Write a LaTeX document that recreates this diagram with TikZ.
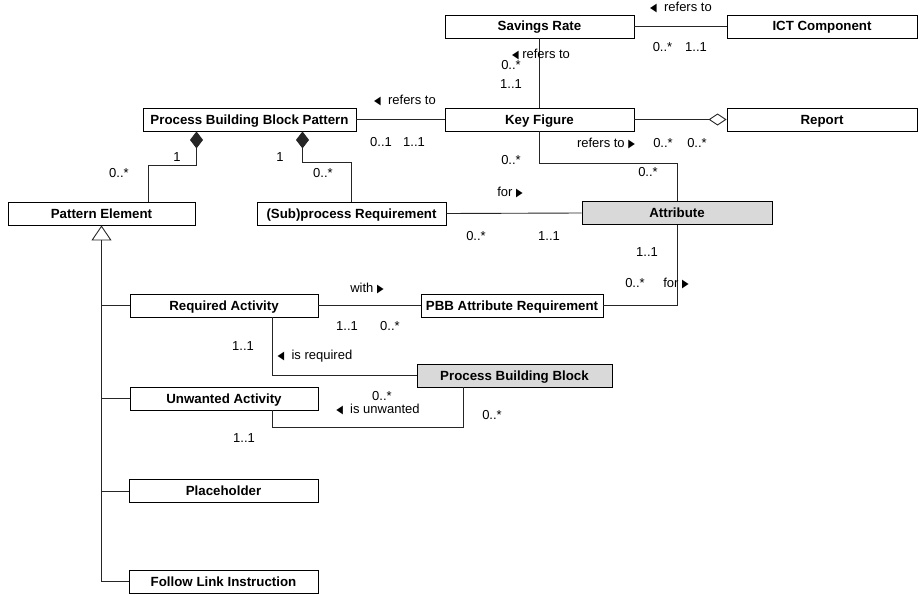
\documentclass[tikz,border=0pt]{standalone}
\usepackage{fontspec}
\usepackage{graphicx}
\setmainfont{Liberation Sans}
\newfontfamily\symfont{DejaVu Sans}
\usetikzlibrary{arrows.meta}
\definecolor{clsgray}{RGB}{217,217,217}
% small direction markers for association names
\newcommand{\dirL}{\scalebox{0.75}[1]{\symfont\fontsize{11.5}{11.5}\selectfont ◀}}
\newcommand{\dirR}{\scalebox{0.75}[1]{\symfont\fontsize{11.5}{11.5}\selectfont ▶}}

\begin{document}
\begin{tikzpicture}[x=1pt,y=-1pt,
  cls/.style={draw=black, line width=0.9pt, fill=white, minimum height=23pt,
    inner sep=0pt, text height=10pt, text depth=1pt,
    font=\fontsize{13.3}{15}\selectfont\bfseries},
  shaded/.style={cls, fill=clsgray},
  lbl/.style={inner sep=0pt, font=\fontsize{13}{15}\selectfont},
  link/.style={draw=black!85, line width=0.9pt},
  compo/.style={link, {Diamond[length=17pt,width=13pt]}-},
  aggr/.style={link, -{Diamond[open,length=18pt,width=12pt]}},
  gen/.style={link, -{Triangle[open,length=15pt,width=20pt]}}
]
\useasboundingbox (0,0) rectangle (920,594);

% classes
\node[cls, minimum width=189pt] (sav)   at (539.5,26.5) {Savings Rate};
\node[cls, minimum width=190pt] (ict)   at (822,26.5)   {ICT Component};
\node[cls, minimum width=189pt] (kf)    at (539.5,119.5) {Key Figure};
\node[cls, minimum width=190pt] (rep)   at (822,119.5)  {Report};
\node[cls, minimum width=213pt] (pbbp)  at (249.5,119.5) {Process Building Block Pattern};
\node[cls, minimum width=187pt] (pe)    at (101.5,213.5) {Pattern Element};
\node[cls, minimum width=189pt] (sub)   at (351.5,213.5) {(Sub)process Requirement};
\node[shaded, minimum width=190pt] (att) at (677,213)    {Attribute};
\node[cls, minimum width=182pt] (pbbar) at (512,305.5)  {PBB Attribute Requirement};
\node[cls, minimum width=188pt] (ra)    at (224,305.5)  {Required Activity};
\node[shaded, minimum width=195pt] (pbb) at (514.5,375.5) {Process Building Block};
\node[cls, minimum width=188pt] (ua)    at (224,398.5)  {Unwanted Activity};
\node[cls, minimum width=189pt] (ph)    at (223.5,491)  {Placeholder};
\node[cls, minimum width=189pt] (fli)   at (223.5,581.5) {Follow Link Instruction};

% associations
\draw[link] (sav.east) -- (ict.west);
\draw[link] (sav.south) -- (kf.north);
\draw[aggr] (kf.east) -- (rep.west);
\draw[link] (pbbp.east) -- (kf.west);
\draw[link] (sub.east) -- (att.west);
\draw[link] (kf.south) |- ([yshift=38pt]att.north) -- (att.north);
\draw[link] (att.south) |- (pbbar.east);
\draw[link] (ra.east) -- (pbbar.west);
\draw[link] ([xshift=48pt]ra.south) |- (pbb.west);
\draw[link] ([xshift=48pt]ua.south) |- ([xshift=-51.5pt,yshift=-40pt]pbb.south)
  -- ([xshift=-51.5pt]pbb.south);

% compositions
\draw[compo] ([xshift=-53pt]pbbp.south) |- ([xshift=46.5pt,yshift=36pt]pe.north)
  -- ([xshift=46.5pt]pe.north);
\draw[compo] ([xshift=53pt]pbbp.south) |- ([yshift=39pt]sub.north) -- (sub.north);

% generalization tree
\coordinate (gbot) at (101.5,581.5);
\draw[gen] (gbot) -- (pe.south);
\draw[link] (ra.west) -- (ra.west -| gbot);
\draw[link] (ua.west) -- (ua.west -| gbot);
\draw[link] (ph.west) -- (ph.west -| gbot);
\draw[link] (fli.west) -- (gbot);

% association names
\node[lbl] (n1) at (681,8)    {\dirL\ \ refers to};
\node[lbl] (n2) at (541,55)   {\dirL\ refers to};
\node[lbl] (n3) at (405,101)  {\dirL\ \ refers to};
\node[lbl] (n4) at (606,144)  {refers to \dirR};
\node[lbl] (n5) at (510,193)  {for \dirR};
\node[lbl] (n6) at (676,283)  {for \dirR};
\node[lbl] (n7) at (367,288)  {with \dirR};
\node[lbl] (n8) at (315,356)  {\dirL\ \ is required};
\node[lbl] (n9) at (378,409)  {\dirL\ \ is unwanted};

% multiplicities
\node[lbl] (m1)  at (662.5,47) {0..*};
\node[lbl] (m2)  at (696,47)   {1..1};
\node[lbl] (m3)  at (511,65)   {0..*};
\node[lbl] (m4)  at (511,84)   {1..1};
\node[lbl] (m5)  at (381,142)  {0..1};
\node[lbl] (m6)  at (414,142)  {1..1};
\node[lbl] (m7)  at (663,143)  {0..*};
\node[lbl] (m8)  at (697,143)  {0..*};
\node[lbl] (m9)  at (177,157)  {1};
\node[lbl] (m10) at (280,157)  {1};
\node[lbl] (m11) at (119,173)  {0..*};
\node[lbl] (m12) at (323,173)  {0..*};
\node[lbl] (m13) at (511,160)  {0..*};
\node[lbl] (m14) at (648,172)  {0..*};
\node[lbl] (m15) at (476,236)  {0..*};
\node[lbl] (m16) at (549,236)  {1..1};
\node[lbl] (m17) at (647,252)  {1..1};
\node[lbl] (m18) at (635,283)  {0..*};
\node[lbl] (m19) at (347,326)  {1..1};
\node[lbl] (m20) at (390,326)  {0..*};
\node[lbl] (m21) at (243,346)  {1..1};
\node[lbl] (m22) at (382,396)  {0..*};
\node[lbl] (m23) at (492,415)  {0..*};
\node[lbl] (m24) at (244,438)  {1..1};
\end{tikzpicture}
\end{document}
